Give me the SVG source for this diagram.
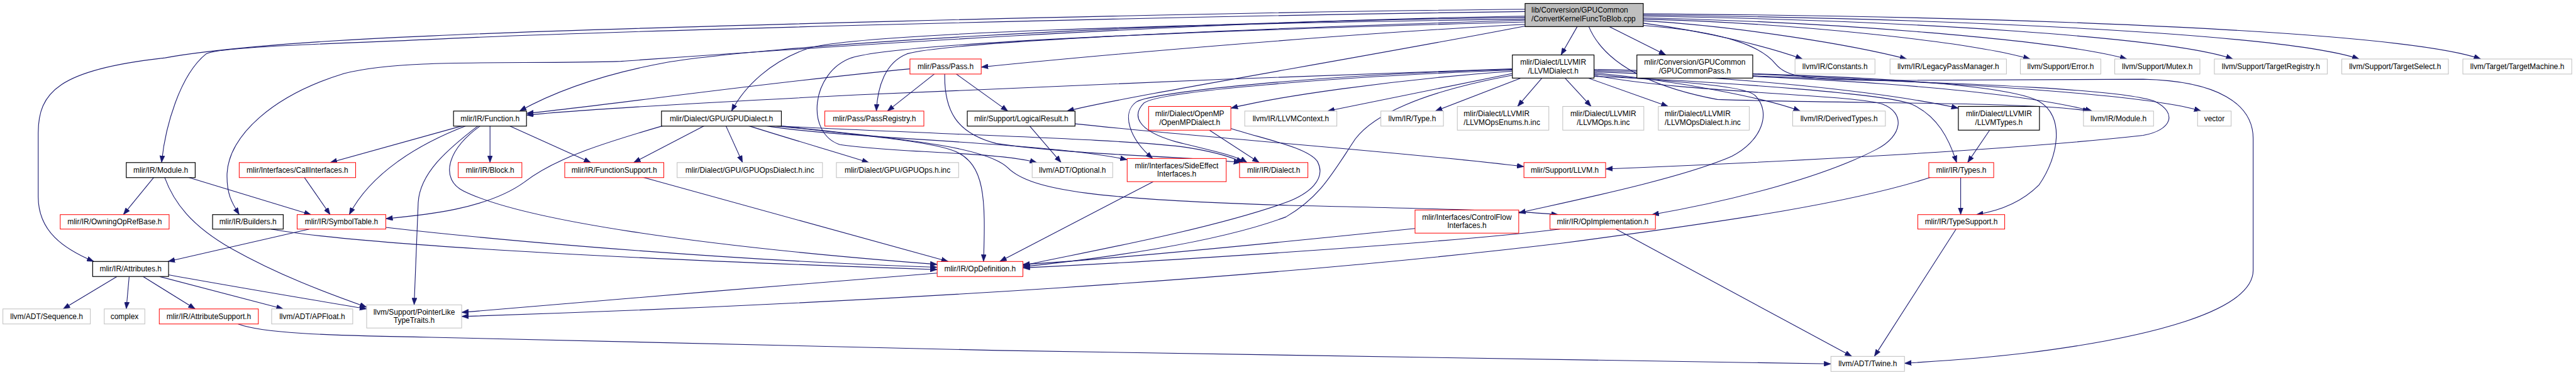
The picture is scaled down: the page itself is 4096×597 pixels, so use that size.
<svg xmlns="http://www.w3.org/2000/svg" width="4096" height="597" viewBox="0 0 4096 597">
<style>
.n rect{fill:#ffffff;stroke-width:1.1}
.g rect{stroke:#bfbfbf}
.r rect{stroke:#ff0000}
.b rect{stroke:#000000;stroke-width:1.3}
.root rect{fill:#bfbfbf;stroke:#000000;stroke-width:1.3}
text{font-family:"Liberation Sans",Arial,Helvetica,sans-serif;font-size:13px;fill:#000000;text-anchor:middle}
text.l{text-anchor:start}
#edges path{fill:none;stroke:#191970;stroke-width:1.2;marker-end:url(#arr)}
</style>
<defs>
<marker id="arr" viewBox="0 0 12 9" refX="12" refY="4.5" markerWidth="12" markerHeight="9" orient="auto" markerUnits="userSpaceOnUse">
<path d="M0,0 L12,4.5 L0,9 z" fill="#191970" stroke="#191970" stroke-width="0.5"/>
</marker>
</defs>
<rect x="0" y="0" width="4096" height="597" fill="#ffffff"/>
<g transform="scale(0.921)">
<g id="edges">
<path d="M2723,46 L2695,95"/>
<path d="M2778,46 L2876,95"/>
<path d="M2837,40 C2950,55 3050,80 3112,102"/>
<path d="M2837,36 C3000,45 3200,78 3292,102"/>
<path d="M2837,33 C3100,40 3400,72 3505,102"/>
<path d="M2837,31 C3150,37 3550,68 3672,102"/>
<path d="M2837,28 C3300,35 3750,65 3855,102"/>
<path d="M2837,26 C3400,32 3950,60 4073,102"/>
<path d="M2837,24 C3500,28 4150,55 4283,102"/>
<path d="M2743,46 C2770,110 2850,150 2965,172 C3200,180 3500,175 3608,192"/>
<path d="M2633,42 C2300,60 1900,95 1694,116"/>
<path d="M2633,45 C2350,100 1950,165 1842,192"/>
<path d="M2633,35 C2200,48 1650,70 1566,93 C1528,108 1515,150 1513,192"/>
<path d="M2633,38 C2100,52 1550,74 1470,100 C1400,125 1390,230 1450,250 C1550,265 1720,262 1790,281"/>
<path d="M2633,33 C2000,42 1500,58 1400,82 C1330,105 1285,150 1263,192"/>
<path d="M2633,30 C1900,40 1300,82 1150,108 C1020,132 940,168 897,192"/>
<path d="M2633,28 C2000,38 1300,90 1072,106 C900,112 700,100 594,127 C470,165 395,235 392,300 C391,335 400,350 413,371"/>
<path d="M2633,20 C2000,28 1000,55 745,68 C600,75 380,80 356,93 C310,130 285,220 279,281"/>
<path d="M2633,16 C2000,22 1000,50 745,62 C500,72 350,88 285,100 C100,120 66,160 66,230 L66,340 C66,400 110,430 162,452"/>
<path d="M2837,44 C2980,55 3040,80 3065,110 C3085,134 3120,138 3250,139 L3700,137 C3830,140 3890,180 3890,240 L3890,467 C3890,540 3700,585 3500,610 C3400,622 3330,625 3288,628"/>
<path d="M2611,127 L2292,192"/>
<path d="M2626,135 L2478,192"/>
<path d="M2662,135 L2620,184"/>
<path d="M2702,135 L2747,184"/>
<path d="M2742,135 L2880,184"/>
<path d="M2611,119 C2300,128 1600,158 1480,164 C1200,178 1000,190 909,199"/>
<path d="M2611,123 C2400,138 2200,168 2125,187"/>
<path d="M2611,121 C2300,133 2000,158 1975,178 C1955,198 1960,225 2030,245 C2100,262 2135,270 2153,281"/>
<path d="M2611,120 C2300,128 1990,158 1962,176 C1935,195 1950,240 1990,274"/>
<path d="M2611,130 C2450,160 2370,200 2340,240 C2300,300 2280,340 2220,375 C2100,420 1900,447 1766,461"/>
<path d="M2752,128 C2850,140 3010,145 3030,165 C3060,195 3040,245 2990,270 C2900,310 2700,350 2622,368"/>
<path d="M2752,130 C2900,160 3200,163 3250,180 C3290,195 3285,235 3240,258 C3150,305 3000,345 2852,371"/>
<path d="M2752,126 C2900,140 3050,170 3108,192"/>
<path d="M2752,124 C3000,133 3250,158 3381,187"/>
<path d="M2752,122 C3100,132 3450,150 3612,192"/>
<path d="M2752,132 C3000,143 3260,163 3300,180 C3345,200 3365,240 3378,281"/>
<path d="M2752,120 C3100,128 3450,138 3520,175 C3565,200 3555,270 3520,320 C3490,350 3450,365 3412,371"/>
<path d="M3026,128 C3300,140 3700,160 3800,192"/>
<path d="M3026,131 C3300,142 3650,150 3720,175 C3760,195 3750,225 3700,234 C3450,262 3000,283 2772,292"/>
<path d="M1571,119 C1300,145 1050,182 909,196"/>
<path d="M1613,128 L1532,192"/>
<path d="M1651,128 L1740,192"/>
<path d="M1631,128 C1630,190 1650,230 1720,248 C1850,268 2050,270 2142,281"/>
<path d="M1146,217 C1050,245 960,272 905,315 C840,362 730,372 666,378"/>
<path d="M1217,217 L1094,281"/>
<path d="M1253,217 L1282,281"/>
<path d="M1291,217 C1380,245 1450,265 1500,281"/>
<path d="M1320,217 C1450,240 1800,245 1946,276"/>
<path d="M1328,217 C1600,232 1950,240 2050,255 C2100,263 2128,272 2146,281"/>
<path d="M1335,217 C1500,235 1610,245 1650,262 C1700,285 1702,340 1698,452"/>
<path d="M1340,217 C1550,240 1700,252 1740,290 C1780,330 1900,345 2225,355 C2450,360 2620,364 2690,371"/>
<path d="M800,217 L570,281"/>
<path d="M806,217 C720,250 640,300 603,371"/>
<path d="M826,217 C770,260 725,300 722,350 L715,527"/>
<path d="M830,217 C770,260 760,310 800,330 C900,380 1200,425 1618,457"/>
<path d="M846,217 L846,281"/>
<path d="M878,217 L1020,281"/>
<path d="M266,306 L213,371"/>
<path d="M284,306 C300,350 330,390 400,430 C480,475 560,505 633,531"/>
<path d="M323,306 L537,371"/>
<path d="M525,306 L570,371"/>
<path d="M534,396 L290,452"/>
<path d="M666,393 C900,420 1300,452 1618,462"/>
<path d="M468,396 C600,420 1000,445 1618,466"/>
<path d="M202,478 L109,534"/>
<path d="M223,478 L218,534"/>
<path d="M247,478 L337,534"/>
<path d="M275,478 L489,534"/>
<path d="M291,475 C400,495 520,515 633,534"/>
<path d="M411,560 C450,575 550,580 745,583 C1500,605 2800,625 3161,629"/>
<path d="M1618,472 C1400,490 1000,522 797,540"/>
<path d="M3335,306 C3200,350 3000,380 2700,420 C2200,480 1500,525 797,547"/>
<path d="M3385,306 L3385,371"/>
<path d="M3435,225 L3397,281"/>
<path d="M3377,396 L3236,616"/>
<path d="M2693,396 C2500,420 2000,452 1766,463"/>
<path d="M2790,396 L3197,616"/>
<path d="M2443,395 C2200,420 1900,450 1766,457"/>
<path d="M1991,314 L1726,452"/>
<path d="M1108,306 L1637,452"/>
<path d="M1777,217 L1832,281"/>
<path d="M1856,214 C2100,240 2450,265 2631,288"/>
<path d="M2088,225 L2174,281"/>
<path d="M2125,222 C2180,240 2260,255 2275,280 C2290,310 2260,335 2220,350 C2080,400 1850,440 1766,459"/>
</g>
<g id="n_root" class="n root"><rect x="2633" y="6" width="204" height="40"/><text class="l" x="2644" y="22">lib/Conversion/GPUCommon</text><text class="l" x="2644" y="37">/ConvertKernelFuncToBlob.cpp</text></g>
<g id="n_llvmdialect" class="n b"><rect x="2611" y="95" width="141" height="40"/><text x="2681.5" y="111.5">mlir/Dialect/LLVMIR</text><text x="2681.5" y="126.5">/LLVMDialect.h</text></g>
<g id="n_gpucommonpass" class="n b"><rect x="2826" y="95" width="200" height="40"/><text x="2926" y="111.5">mlir/Conversion/GPUCommon</text><text x="2926" y="126.5">/GPUCommonPass.h</text></g>
<g id="n_pass" class="n r"><rect x="1571" y="102" width="123" height="26"/><text x="1632.5" y="119.5">mlir/Pass/Pass.h</text></g>
<g id="n_constants" class="n g"><rect x="3099" y="102" width="138" height="26"/><text x="3168" y="119.5">llvm/IR/Constants.h</text></g>
<g id="n_legacypm" class="n g"><rect x="3263" y="102" width="201" height="26"/><text x="3363.5" y="119.5">llvm/IR/LegacyPassManager.h</text></g>
<g id="n_error" class="n g"><rect x="3488" y="102" width="139" height="26"/><text x="3557.5" y="119.5">llvm/Support/Error.h</text></g>
<g id="n_mutex" class="n g"><rect x="3651" y="102" width="147" height="26"/><text x="3724.5" y="119.5">llvm/Support/Mutex.h</text></g>
<g id="n_targetreg" class="n g"><rect x="3823" y="102" width="195" height="26"/><text x="3920.5" y="119.5">llvm/Support/TargetRegistry.h</text></g>
<g id="n_targetsel" class="n g"><rect x="4043" y="102" width="184" height="26"/><text x="4135" y="119.5">llvm/Support/TargetSelect.h</text></g>
<g id="n_targetmach" class="n g"><rect x="4252" y="102" width="188" height="26"/><text x="4346" y="119.5">llvm/Target/TargetMachine.h</text></g>
<g id="n_function" class="n b"><rect x="783" y="192" width="126" height="26"/><text x="846" y="209.5">mlir/IR/Function.h</text></g>
<g id="n_gpudialect" class="n b"><rect x="1142" y="192" width="207" height="26"/><text x="1245.5" y="209.5">mlir/Dialect/GPU/GPUDialect.h</text></g>
<g id="n_passreg" class="n r"><rect x="1424" y="192" width="171" height="26"/><text x="1509.5" y="209.5">mlir/Pass/PassRegistry.h</text></g>
<g id="n_logical" class="n b"><rect x="1670" y="192" width="186" height="26"/><text x="1763" y="209.5">mlir/Support/LogicalResult.h</text></g>
<g id="n_openmp" class="n r"><rect x="1983" y="184" width="142" height="41"/><text x="2054" y="201">mlir/Dialect/OpenMP</text><text x="2054" y="216">/OpenMPDialect.h</text></g>
<g id="n_llvmcontext" class="n g"><rect x="2149" y="192" width="159" height="26"/><text x="2228.5" y="209.5">llvm/IR/LLVMContext.h</text></g>
<g id="n_type" class="n g"><rect x="2384" y="192" width="108" height="26"/><text x="2438" y="209.5">llvm/IR/Type.h</text></g>
<g id="n_opsenums" class="n g"><rect x="2516" y="184" width="158" height="41"/><text class="l" x="2527" y="201">mlir/Dialect/LLVMIR</text><text class="l" x="2527" y="216">/LLVMOpsEnums.h.inc</text></g>
<g id="n_ops" class="n g"><rect x="2698" y="184" width="140" height="41"/><text x="2768" y="201">mlir/Dialect/LLVMIR</text><text x="2768" y="216">/LLVMOps.h.inc</text></g>
<g id="n_opsdialect" class="n g"><rect x="2863" y="184" width="157" height="41"/><text class="l" x="2874" y="201">mlir/Dialect/LLVMIR</text><text class="l" x="2874" y="216">/LLVMOpsDialect.h.inc</text></g>
<g id="n_derived" class="n g"><rect x="3095" y="192" width="160" height="26"/><text x="3175" y="209.5">llvm/IR/DerivedTypes.h</text></g>
<g id="n_llvmtypes" class="n b"><rect x="3381" y="184" width="140" height="41"/><text x="3451" y="201">mlir/Dialect/LLVMIR</text><text x="3451" y="216">/LLVMTypes.h</text></g>
<g id="n_llvmmodule" class="n g"><rect x="3597" y="192" width="121" height="26"/><text x="3657.5" y="209.5">llvm/IR/Module.h</text></g>
<g id="n_vector" class="n g"><rect x="3794" y="192" width="58" height="26"/><text x="3823" y="209.5">vector</text></g>
<g id="n_module" class="n b"><rect x="218" y="281" width="119" height="26"/><text x="277.5" y="298.5">mlir/IR/Module.h</text></g>
<g id="n_callif" class="n r"><rect x="413" y="281" width="201" height="26"/><text x="513.5" y="298.5">mlir/Interfaces/CallInterfaces.h</text></g>
<g id="n_block" class="n r"><rect x="791" y="281" width="110" height="26"/><text x="846" y="298.5">mlir/IR/Block.h</text></g>
<g id="n_funcsupport" class="n r"><rect x="975" y="281" width="171" height="26"/><text x="1060.5" y="298.5">mlir/IR/FunctionSupport.h</text></g>
<g id="n_gpuopsdialect" class="n g"><rect x="1169" y="281" width="251" height="26"/><text x="1294.5" y="298.5">mlir/Dialect/GPU/GPUOpsDialect.h.inc</text></g>
<g id="n_gpuops" class="n g"><rect x="1444" y="281" width="211" height="26"/><text x="1549.5" y="298.5">mlir/Dialect/GPU/GPUOps.h.inc</text></g>
<g id="n_optional" class="n g"><rect x="1782" y="281" width="139" height="26"/><text x="1851.5" y="298.5">llvm/ADT/Optional.h</text></g>
<g id="n_sideeffect" class="n r"><rect x="1946" y="274" width="171" height="40"/><text x="2031.5" y="290.5">mlir/Interfaces/SideEffect</text><text x="2031.5" y="305.5">Interfaces.h</text></g>
<g id="n_dialect" class="n r"><rect x="2140" y="281" width="118" height="26"/><text x="2199" y="298.5">mlir/IR/Dialect.h</text></g>
<g id="n_supportllvm" class="n r"><rect x="2631" y="281" width="141" height="26"/><text x="2701.5" y="298.5">mlir/Support/LLVM.h</text></g>
<g id="n_types" class="n r"><rect x="3330" y="281" width="112" height="26"/><text x="3386" y="298.5">mlir/IR/Types.h</text></g>
<g id="n_owning" class="n r"><rect x="104" y="371" width="188" height="25"/><text x="198" y="388">mlir/IR/OwningOpRefBase.h</text></g>
<g id="n_builders" class="n b"><rect x="367" y="371" width="122" height="25"/><text x="428" y="388">mlir/IR/Builders.h</text></g>
<g id="n_symtab" class="n r"><rect x="513" y="371" width="153" height="25"/><text x="589.5" y="388">mlir/IR/SymbolTable.h</text></g>
<g id="n_controlflow" class="n r"><rect x="2443" y="363" width="179" height="40"/><text x="2532.5" y="379.5">mlir/Interfaces/ControlFlow</text><text x="2532.5" y="394.5">Interfaces.h</text></g>
<g id="n_opimpl" class="n r"><rect x="2676" y="371" width="182" height="25"/><text x="2767" y="388">mlir/IR/OpImplementation.h</text></g>
<g id="n_typesupport" class="n r"><rect x="3311" y="371" width="150" height="25"/><text x="3386" y="388">mlir/IR/TypeSupport.h</text></g>
<g id="n_attributes" class="n b"><rect x="160" y="452" width="131" height="26"/><text x="225.5" y="469.5">mlir/IR/Attributes.h</text></g>
<g id="n_opdef" class="n r"><rect x="1618" y="452" width="148" height="26"/><text x="1692" y="469.5">mlir/IR/OpDefinition.h</text></g>
<g id="n_sequence" class="n g"><rect x="5" y="534" width="151" height="26"/><text x="80.5" y="551.5">llvm/ADT/Sequence.h</text></g>
<g id="n_complex" class="n g"><rect x="180" y="534" width="70" height="26"/><text x="215" y="551.5">complex</text></g>
<g id="n_attrsupport" class="n r"><rect x="275" y="534" width="171" height="26"/><text x="360.5" y="551.5">mlir/IR/AttributeSupport.h</text></g>
<g id="n_apfloat" class="n g"><rect x="469" y="534" width="140" height="26"/><text x="539" y="551.5">llvm/ADT/APFloat.h</text></g>
<g id="n_pointerlike" class="n g"><rect x="633" y="527" width="164" height="40"/><text x="715" y="543.5">llvm/Support/PointerLike</text><text x="715" y="558.5">TypeTraits.h</text></g>
<g id="n_twine" class="n g"><rect x="3161" y="616" width="127" height="26"/><text x="3224.5" y="633.5">llvm/ADT/Twine.h</text></g>
</g>
</svg>
